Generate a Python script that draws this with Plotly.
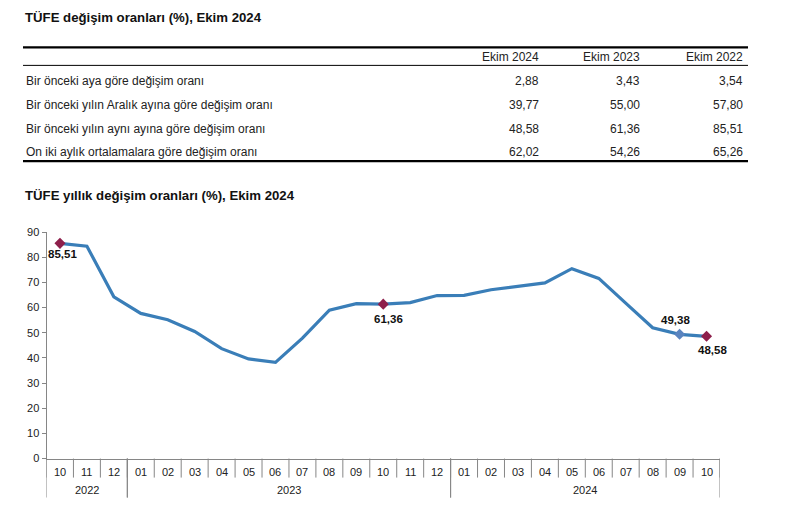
import plotly.graph_objects as go

W, H = 788, 516

# ---------------- data ----------------
table_title = "TÜFE değişim oranları (%), Ekim 2024"
table_columns = ["Ekim 2024", "Ekim 2023", "Ekim 2022"]
table_rows = [
    "Bir önceki aya göre değişim oranı",
    "Bir önceki yılın Aralık ayına göre değişim oranı",
    "Bir önceki yılın aynı ayına göre değişim oranı",
    "On iki aylık ortalamalara göre değişim oranı",
]
table_values = [
    ["2,88", "3,43", "3,54"],
    ["39,77", "55,00", "57,80"],
    ["48,58", "61,36", "85,51"],
    ["62,02", "54,26", "65,26"],
]

chart_title = "TÜFE yıllık değişim oranları (%), Ekim 2024"
years = ["2022"] * 3 + ["2023"] * 12 + ["2024"] * 10
months = ["10", "11", "12",
          "01", "02", "03", "04", "05", "06", "07", "08", "09", "10", "11", "12",
          "01", "02", "03", "04", "05", "06", "07", "08", "09", "10"]
inflation = [85.51, 84.39, 64.27,
             57.68, 55.18, 50.51, 43.68, 39.59, 38.21, 47.83, 58.94, 61.53, 61.36, 61.98, 64.77,
             64.86, 67.07, 68.50, 69.80, 75.45, 71.60, 61.78, 51.97, 49.38, 48.58]
highlight_idx = [0, 12, 23, 24]

# ---------------- helpers (pixel -> paper) ----------------
def px(x):
    return x / W

def py(y):
    return 1 - (y - 5.5) / 505.0

FONT = "Liberation Sans, Arial, sans-serif"
LINE_COLOR = "#3A7EB8"
AXIS_COLOR = "#868686"

n = len(months)

fig = go.Figure()

fig.add_trace(go.Scatter(
    x=list(range(n)), y=inflation, mode="lines",
    line=dict(color=LINE_COLOR, width=3.2),
    hoverinfo="skip", showlegend=False,
))

mk_colors = {0: "#8E1F4B", 12: "#8E1F4B", 23: "#5A84BF", 24: "#8E1F4B"}
fig.add_trace(go.Scatter(
    x=highlight_idx, y=[inflation[i] for i in highlight_idx], mode="markers",
    marker=dict(symbol="diamond", size=8.5, color=[mk_colors[i] for i in highlight_idx]),
    hoverinfo="skip", showlegend=False,
))

annotations = []
shapes = []

# titles
annotations.append(dict(text=f"<b>{table_title}</b>", x=px(23), y=py(17), xref="paper", yref="paper",
                        xanchor="left", yanchor="middle", showarrow=False,
                        font=dict(family=FONT, size=13.2, color="#111")))
annotations.append(dict(text=f"<b>{chart_title}</b>", x=px(23), y=py(195), xref="paper", yref="paper",
                        xanchor="left", yanchor="middle", showarrow=False,
                        font=dict(family=FONT, size=13.2, color="#111")))

# table
col_right = [541, 642, 745]
hdr_y = 57
row_y = [81, 105, 129, 152]
for c, name in enumerate(table_columns):
    annotations.append(dict(text=name, x=px(col_right[c]), y=py(hdr_y), xref="paper", yref="paper",
                            xanchor="right", yanchor="middle", showarrow=False,
                            font=dict(family=FONT, size=12, color="#222")))
for r, label in enumerate(table_rows):
    annotations.append(dict(text=label, x=px(24), y=py(row_y[r]), xref="paper", yref="paper",
                            xanchor="left", yanchor="middle", showarrow=False,
                            font=dict(family=FONT, size=12, color="#222")))
    for c, v in enumerate(table_values[r]):
        annotations.append(dict(text=v, x=px(col_right[c]), y=py(row_y[r]), xref="paper", yref="paper",
                                xanchor="right", yanchor="middle", showarrow=False,
                                font=dict(family=FONT, size=12, color="#222")))
for yy, w in [(47, 2.2), (65, 1), (161, 2.2)]:
    shapes.append(dict(type="line", xref="paper", yref="paper", x0=px(23), x1=px(748),
                       y0=py(yy), y1=py(yy), line=dict(color="#000", width=w)))

# point labels
lbl_pos = {0: (3, 11), 12: (5, 15), 23: (-4, -14), 24: (6, 14)}
for i in highlight_idx:
    dx, dy = lbl_pos[i]
    annotations.append(dict(text=f"<b>{inflation[i]:.2f}".replace(".", ",") + "</b>",
                            x=i, y=inflation[i], xref="x", yref="y", showarrow=False,
                            xshift=dx, yshift=-dy, xanchor="center", yanchor="middle",
                            font=dict(family=FONT, size=11.5, color="#111")))

# x-axis category decoration: month ticks and year dividers
y_axis_px = 459
for i in range(n + 1):
    shapes.append(dict(type="line", xref="x", yref="paper", x0=i - 0.5, x1=i - 0.5,
                       y0=py(y_axis_px), y1=py(478), line=dict(color=AXIS_COLOR, width=1)))
groups = []
start = 0
for i in range(1, n + 1):
    if i == n or years[i] != years[start]:
        groups.append((years[start], start, i - 1))
        start = i
for yr, a, b in groups:
    for edge in (a - 0.5, b + 0.5):
        shapes.append(dict(type="line", xref="x", yref="paper", x0=edge, x1=edge,
                           y0=py(y_axis_px), y1=py(498), line=dict(color=AXIS_COLOR, width=1)))
    annotations.append(dict(text=yr, x=(a + b) / 2, y=py(490), xref="x", yref="paper",
                            showarrow=False, xanchor="center", yanchor="middle",
                            font=dict(family=FONT, size=11, color="#222")))
for i, m in enumerate(months):
    annotations.append(dict(text=m, x=i, y=py(472), xref="x", yref="paper",
                            showarrow=False, xanchor="center", yanchor="middle",
                            font=dict(family=FONT, size=11, color="#222")))

fig.update_layout(
    width=W, height=H,
    margin=dict(l=0, r=0, t=0, b=0),
    paper_bgcolor="white", plot_bgcolor="white",
    annotations=annotations, shapes=shapes,
    xaxis=dict(domain=[px(46.5), px(720)], range=[-0.5, n - 0.5],
               showticklabels=False, ticks="", showgrid=False, zeroline=False,
               showline=True, linecolor=AXIS_COLOR, linewidth=1, fixedrange=True),
    yaxis=dict(domain=[py(459), py(232)], range=[0, 90], dtick=10,
               showgrid=False, zeroline=False, showline=True, linecolor=AXIS_COLOR, linewidth=1,
               ticks="outside", ticklen=4, tickcolor=AXIS_COLOR,
               tickfont=dict(family=FONT, size=11, color="#222"), fixedrange=True),
    font=dict(family=FONT),
)

fig.write_html("out.html")
